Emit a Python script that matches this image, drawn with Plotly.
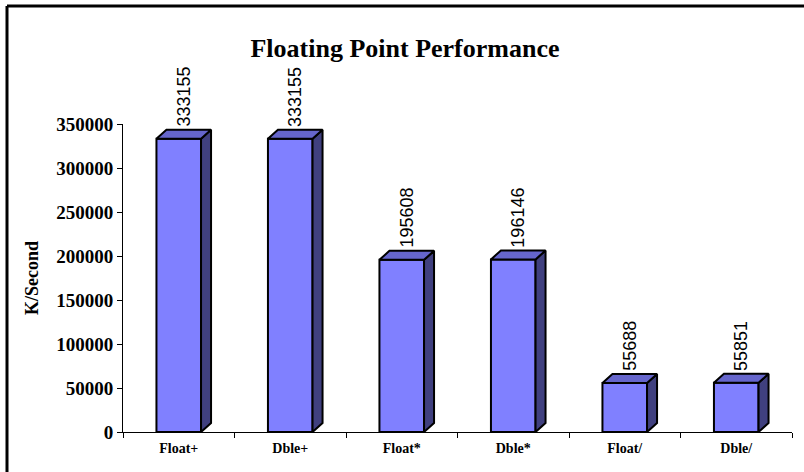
import plotly.graph_objects as go

# ---- data ----
categories = ["Float+", "Dble+", "Float*", "Dble*", "Float/", "Dble/"]
k_per_second = [333155, 333155, 195608, 196146, 55688, 55851]
y_tick_values = [0, 50000, 100000, 150000, 200000, 250000, 300000, 350000]

# ---- geometry ----
W, H = 804, 472
M_L, M_R, M_T, M_B = 123, 12, 124, 40
plot_w = W - M_L - M_R
plot_h = H - M_T - M_B
y_max = 350000
x_lo, x_hi = -0.5, len(categories) - 0.5

bar_w = 0.40                      # front face width in category units
depth_px_x, depth_px_y = 10, 9    # 3-D extrusion of each column, in pixels
dx = depth_px_x * (x_hi - x_lo) / plot_w
dy = depth_px_y * y_max / plot_h

FRONT = "#8080FF"
TOP = "#6666CC"
SIDE = "#40407F"
SERIF = "Liberation Serif, Times New Roman, serif"
SANS = "Liberation Sans, Arial, sans-serif"

# ---- build the top and side faces of the extruded columns ----
top_x, top_y, side_x, side_y = [], [], [], []
for i, v in enumerate(k_per_second):
    x0, x1 = i - bar_w / 2, i + bar_w / 2
    top_x += [x0, x1, x1 + dx, x0 + dx, x0, None]
    top_y += [v, v, v + dy, v + dy, v, None]
    side_x += [x1, x1 + dx, x1 + dx, x1, x1, None]
    side_y += [0, dy, v + dy, v, 0, None]

fig = go.Figure()

fig.add_trace(go.Bar(
    x=list(range(len(categories))), y=k_per_second, width=bar_w,
    marker=dict(color=FRONT, line=dict(color="black", width=2)),
    hoverinfo="skip",
))
fig.add_trace(go.Scatter(
    x=side_x, y=side_y, mode="lines", fill="toself", fillcolor=SIDE,
    line=dict(color="black", width=2), hoverinfo="skip",
))
fig.add_trace(go.Scatter(
    x=top_x, y=top_y, mode="lines", fill="toself", fillcolor=TOP,
    line=dict(color="black", width=2), hoverinfo="skip",
))

# value labels, rotated, sitting on top of each column
for i, v in enumerate(k_per_second):
    fig.add_annotation(
        x=i + dx / 2, y=v + dy, xref="x", yref="y",
        text=str(v), showarrow=False, textangle=-90,
        xanchor="center", yanchor="bottom", yshift=1,
        font=dict(family=SANS, size=18, color="black"),
    )

# outer chart frame: top and left edges
frame_x = (7 - M_L) / plot_w
frame_y = (plot_h + M_T - 6) / plot_h
fig.add_shape(type="line", xref="paper", yref="paper",
              x0=frame_x, x1=1.5, y0=frame_y, y1=frame_y,
              line=dict(color="black", width=3))
fig.add_shape(type="line", xref="paper", yref="paper",
              x0=frame_x, x1=frame_x, y0=frame_y, y1=-0.5,
              line=dict(color="black", width=3))

fig.update_layout(
    width=W, height=H,
    margin=dict(l=M_L, r=M_R, t=M_T, b=M_B, autoexpand=False),
    paper_bgcolor="white", plot_bgcolor="white",
    showlegend=False,
    title=dict(
        text="Floating Point Performance",
        x=405 / W, xref="container", xanchor="center",
        y=1 - 48 / H, yref="container", yanchor="middle",
        font=dict(family=SERIF, size=26, color="black", weight="bold"),
    ),
    xaxis=dict(
        range=[x_lo, x_hi], tickvals=list(range(len(categories))),
        ticktext=categories, ticks="", showgrid=False, zeroline=False,
        showline=True, linecolor="black", linewidth=1,
        tickfont=dict(family=SERIF, size=14, color="black", weight="bold"),
        ticklabelstandoff=3,
        minor=dict(
            tickmode="array",
            tickvals=[i - 0.5 for i in range(len(categories) + 1)],
            ticks="outside", ticklen=5, tickwidth=1, tickcolor="black",
            showgrid=False,
        ),
    ),
    yaxis=dict(
        range=[0, y_max], tickvals=y_tick_values, tickformat="d",
        ticks="outside", ticklen=5, tickwidth=1, tickcolor="black",
        showgrid=False, zeroline=False,
        showline=True, linecolor="black", linewidth=1,
        tickfont=dict(family=SERIF, size=19, color="black", weight="bold"),
        title=dict(text="K/Second", standoff=12,
                   font=dict(family=SERIF, size=18, color="black", weight="bold")),
    ),
)

fig.write_html("out.html")
